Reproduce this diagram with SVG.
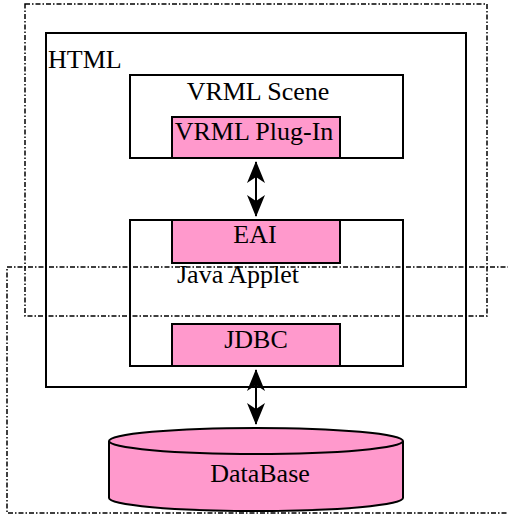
<svg xmlns="http://www.w3.org/2000/svg" width="508" height="514" viewBox="0 0 508 514">
<style>
.box{fill:#fff;stroke:#000;stroke-width:2}
.pink{fill:#ff99cc;stroke:#000;stroke-width:2}
.dash{fill:none;stroke:#000;stroke-width:1.5;stroke-dasharray:5 2 1.5 2}
.t{font-family:"Liberation Serif","Times New Roman",serif;font-size:26px;fill:#000}
.c{stroke:#000;stroke-width:2;fill:none}
</style>
<defs>
<marker id="ah" viewBox="0 0 22 20" refX="21" refY="10" markerWidth="22" markerHeight="20" markerUnits="userSpaceOnUse" orient="auto-start-reverse">
<path d="M0,1 L22,10 L0,19 L6,10 Z" fill="#000"/>
</marker>
</defs>
<rect id="bg" x="0" y="0" width="508" height="514" fill="#fff"/>
<g id="html">
<rect class="box" x="46" y="33" width="420" height="354"/>
<text class="t" x="48" y="68">HTML</text>
</g>
<g id="vrml-scene">
<rect class="box" x="130" y="75" width="273" height="83"/>
<text class="t" x="258" y="100" text-anchor="middle">VRML Scene</text>
</g>
<g id="vrml-plugin">
<rect class="pink" x="172" y="117" width="168" height="41"/>
<text class="t" x="254" y="140" text-anchor="middle">VRML Plug-In</text>
</g>
<g id="java-applet">
<rect class="box" x="130" y="220" width="273" height="146"/>
<text class="t" x="177" y="283">Java Applet</text>
</g>
<g id="eai">
<rect class="pink" x="172" y="220" width="168" height="43"/>
<text class="t" x="255" y="243" text-anchor="middle">EAI</text>
</g>
<g id="jdbc">
<rect class="pink" x="172" y="324" width="168" height="42"/>
<text class="t" x="256" y="348" text-anchor="middle">JDBC</text>
</g>
<g id="database">
<path class="pink" d="M109,441 L109,498 A147,13 0 0 0 403,498 L403,441"/>
<ellipse class="pink" cx="256" cy="441" rx="147" ry="13"/>
<text class="t" x="260" y="482" text-anchor="middle">DataBase</text>
</g>
<g id="regions">
<rect class="dash" x="25" y="4" width="462" height="312"/>
<rect class="dash" x="7" y="267" width="510" height="246"/>
</g>
<g id="connectors">
<line class="c" x1="256" y1="162" x2="256" y2="216" marker-start="url(#ah)" marker-end="url(#ah)"/>
<line class="c" x1="256" y1="370" x2="256" y2="424" marker-start="url(#ah)" marker-end="url(#ah)"/>
</g>
</svg>
